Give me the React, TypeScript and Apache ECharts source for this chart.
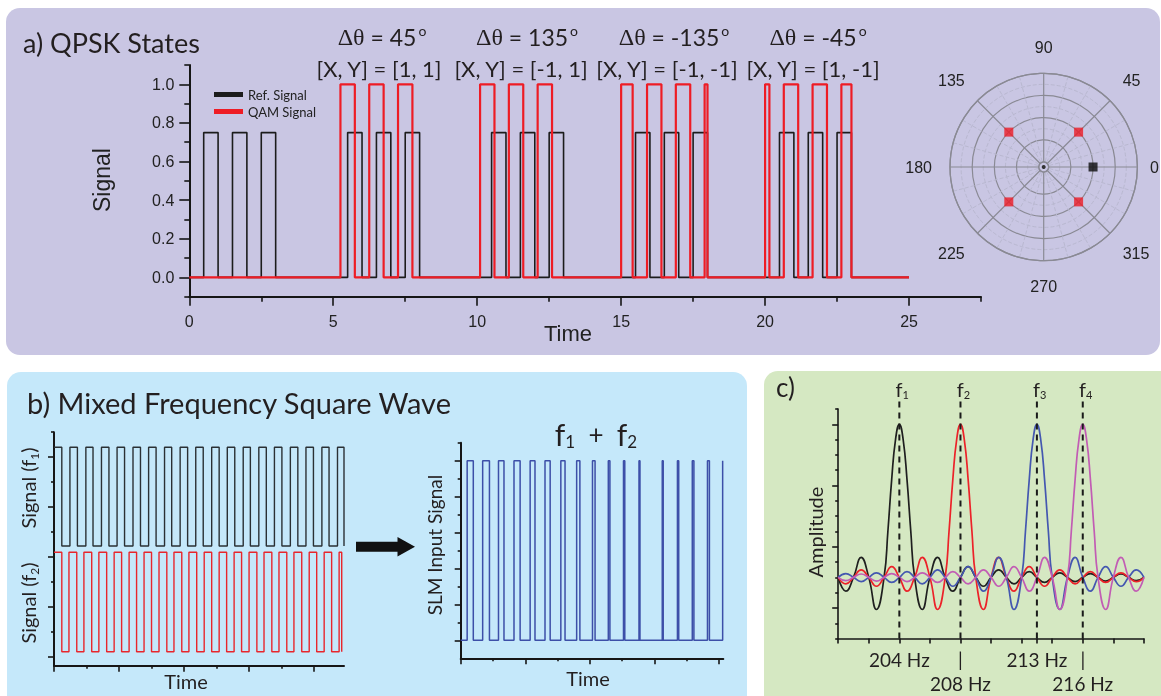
import React, { useEffect, useRef } from 'react';
import * as echarts from 'echarts';

// ---------------- Panel a: QPSK states ----------------
const qpskEnd = 25;
const refLevel = 0.75;
const qamLevel = 1.0;
const refPulses = [
  [0.5, 1], [1.5, 2], [2.5, 3],
  [5.5, 6], [6.5, 7], [7.5, 8],
  [10.5, 11], [11.5, 12], [12.5, 13],
  [15.5, 16], [16.5, 17], [17.5, 18],
  [20.5, 21], [21.5, 22], [22.5, 23],
];
const qamPulses = [
  [5.25, 5.75], [6.25, 6.75], [7.25, 7.75],
  [10.1, 10.6], [11.1, 11.6], [12.1, 12.6],
  [15.0, 15.4], [15.9, 16.4], [16.9, 17.4], [17.9, 18.0],
  [20.0, 20.15], [20.65, 21.15], [21.65, 22.15], [22.65, 23.0],
];
const aXMajor = [0, 5, 10, 15, 20, 25];
const aXMinor = [2.5, 7.5, 12.5, 17.5, 22.5, 27.5];
const aYMajor = [0, 0.2, 0.4, 0.6, 0.8, 1.0];
const aYMinor = [-0.1, 0.1, 0.3, 0.5, 0.7, 0.9, 1.1];
const deltaTheta = ['45', '135', '-135', '-45'];
const xyLabels = ['[X, Y] = [1, 1]', '[X, Y] = [-1, 1]', '[X, Y] = [-1, -1]', '[X, Y] = [1, -1]'];
const constellation = [[2, 45], [2, 135], [2, 225], [2, 315]];
const refPoint = [[2, 0]];

// ---------------- Panel b: mixed frequency square wave ----------------
const f1High = 8.4;
const f1Low = 4.45;
const f2High = 4.2;
const f2Low = 0.22;
const f1End = 8.92;
const f2End = 8.85;
const f1Dips = [
  [0.24, 0.49], [0.72, 0.98], [1.2, 1.46], [1.69, 1.94], [2.17, 2.43], [2.66, 2.91],
  [3.14, 3.4], [3.62, 3.88], [4.11, 4.36], [4.59, 4.85], [5.08, 5.33], [5.56, 5.82],
  [6.04, 6.3], [6.53, 6.78], [7.01, 7.27], [7.5, 7.75], [7.98, 8.24], [8.46, 8.72],
];
const f2Dips = [
  [0.24, 0.46], [0.7, 0.92], [1.16, 1.38], [1.62, 1.85], [2.08, 2.31], [2.54, 2.77],
  [3.0, 3.23], [3.47, 3.69], [3.93, 4.15], [4.39, 4.62], [4.85, 5.08], [5.31, 5.54],
  [5.77, 6.0], [6.24, 6.46], [6.7, 6.92], [7.16, 7.38], [7.62, 7.85], [8.08, 8.31], [8.54, 8.77],
];
const slmEnd = 8.13;
const slmPulses = [
  [0.2, 0.39], [0.68, 0.89], [1.17, 1.34], [1.65, 1.84], [2.15, 2.3], [2.61, 2.77],
  [3.1, 3.23], [3.59, 3.69], [4.08, 4.16], [4.57, 4.62], [5.04, 5.08], [5.52, 5.55],
  [6.24, 6.27], [6.71, 6.75], [7.17, 7.22], [7.64, 7.7], [8.11, 8.13],
];
const blXLong = [0, 2, 4, 6, 8];
const blXShort = [1, 3, 5, 7];
const blYLong = [0, 2, 4, 6, 8];
const blYShort = [1, 3, 5, 7, 9];
const brXLong = [0, 2, 4, 6, 8];
const brXShort = [1, 3, 5, 7];
const brYLong = [0, 0.2, 0.4, 0.6, 0.8, 1.0];
const brYShort = [0.1, 0.3, 0.5, 0.7, 0.9, 1.1];

// ---------------- Panel c: spectra ----------------
const cFreqs = [200, 200.5, 201, 201.5, 202, 202.5, 203, 203.5, 204, 204.5, 205, 205.5, 206, 206.5, 207, 207.5,
  208, 208.5, 209, 209.5, 210, 210.5, 211, 211.5, 212, 212.5, 213, 213.5, 214, 214.5, 215, 215.5, 216, 216.5,
  217, 217.5, 218, 218.5, 219, 219.5, 220];
const ampF1 = [0, -0.09, 0, 0.13, 0, -0.21, 0, 0.64, 1, 0.64, 0, -0.21, 0, 0.13, 0, -0.09, 0, 0.07, 0, -0.058, 0,
  0.049, 0, -0.042, 0, 0.037, 0, -0.033, 0, 0.03, 0, -0.028, 0, 0.025, 0, -0.024, 0, 0.022, 0, -0.021, 0];
const ampF2 = [0, -0.042, 0, 0.049, 0, -0.058, 0, 0.07, 0, -0.09, 0, 0.13, 0, -0.21, 0, 0.64, 1, 0.64, 0, -0.21, 0,
  0.13, 0, -0.09, 0, 0.07, 0, -0.058, 0, 0.049, 0, -0.042, 0, 0.037, 0, -0.033, 0, 0.03, 0, -0.028, 0];
const ampF3 = [0, 0.025, 0, -0.028, 0, 0.03, 0, -0.033, 0, 0.037, 0, -0.042, 0, 0.049, 0, -0.058, 0, 0.07, 0, -0.09, 0,
  0.13, 0, -0.21, 0, 0.64, 1, 0.64, 0, -0.21, 0, 0.13, 0, -0.09, 0, 0.07, 0, -0.058, 0, 0.049, 0];
const ampF4 = [0, -0.021, 0, 0.022, 0, -0.024, 0, 0.025, 0, -0.028, 0, 0.03, 0, -0.033, 0, 0.037, 0, -0.042, 0, 0.049, 0,
  -0.058, 0, 0.07, 0, -0.09, 0, 0.13, 0, -0.21, 0, 0.64, 1, 0.64, 0, -0.21, 0, 0.13, 0, -0.09, 0];
const peakF1 = [[203.25, 0.3], [203.75, 0.9], [204.25, 0.9], [204.75, 0.3]];
const peakF2 = [[207.25, 0.3], [207.75, 0.9], [208.25, 0.9], [208.75, 0.3]];
const peakF3 = [[212.25, 0.3], [212.75, 0.9], [213.25, 0.9], [213.75, 0.3]];
const peakF4 = [[215.25, 0.3], [215.75, 0.9], [216.25, 0.9], [216.75, 0.3]];
const markFreqs = [204, 208, 213, 216];
const markNames = ['1', '2', '3', '4'];
const cXTicks = [200, 202, 204, 206, 208, 210, 212, 213, 214, 216, 218, 220];
const cXLabelsUpper = [204, 213];
const cXLabelsLower = [208, 216];
const cYLong = [-0.2, 0.2, 0.6, 1.0];
const cYShort = [-0.4, -0.3, -0.1, 0, 0.1, 0.3, 0.4, 0.5, 0.7, 0.8, 0.9, 1.1];

// ---------------- helpers ----------------
function pulseTrace(pulses: number[][], base: number, level: number, tEnd: number) {
  const pts: number[][] = [[0, base]];
  for (const [s, e] of pulses) {
    pts.push([s, base], [s, level]);
    if (e >= tEnd) {
      pts.push([tEnd, level]);
      return pts;
    }
    pts.push([e, level], [e, base]);
  }
  pts.push([tEnd, base]);
  return pts;
}

function spectrum(amps: number[], peak: number[][]) {
  const pts = cFreqs.map((f, i) => [f, amps[i]]).concat(peak);
  pts.sort((a, b) => a[0] - b[0]);
  return pts;
}

const TXT = '#231f20';
const AX = '#161616';

function valAxis(grid: number, pos: string, min: number, max: number, ticks: number[], len: number, showLine: boolean, extra: any = {}) {
  return {
    type: 'value',
    gridIndex: grid,
    position: pos,
    min,
    max,
    axisLine: { show: showLine, onZero: false, lineStyle: { color: AX, width: 2 } },
    axisTick: { show: ticks.length > 0, customValues: ticks, length: len, lineStyle: { color: AX, width: 1.6 } },
    axisLabel: { show: false },
    splitLine: { show: false },
    ...extra,
  };
}

export default function App() {
  const ref = useRef<HTMLDivElement>(null);

  useEffect(() => {
    if (!ref.current) return;
    const chart = echarts.init(ref.current, null, { renderer: 'svg' });

    const tickFont = { fontFamily: 'Liberation Sans', fontSize: 16, color: '#222' };
    const cLabel = {
      show: true, showMinLabel: true, showMaxLabel: true, margin: 9,
      fontFamily: 'Lato', fontSize: 19, color: TXT, lineHeight: 24,
    };

    const xAxis: any[] = [
      valAxis(0, 'bottom', 0, 27.5, aXMajor, 9, true, {
        axisLabel: { show: true, customValues: aXMajor, margin: 17, showMinLabel: true, showMaxLabel: true, ...tickFont },
      }),
      valAxis(0, 'bottom', 0, 27.5, aXMinor, 5, false),
      valAxis(1, 'bottom', 0, f1End, blXLong, 6, true),
      valAxis(1, 'bottom', 0, f1End, blXShort, 3, false),
      valAxis(2, 'bottom', 0, slmEnd, brXLong, 6, true),
      valAxis(2, 'bottom', 0, slmEnd, brXShort, 3, false),
      valAxis(3, 'bottom', 200, 220, cXTicks, 5, true, {
        axisLine: { show: true, onZero: false, lineStyle: { color: AX, width: 1.6 } },
        axisLabel: { ...cLabel, customValues: cXLabelsUpper, formatter: (v: number) => v + ' Hz' },
      }),
      valAxis(3, 'bottom', 200, 220, [], 5, false, {
        axisLabel: { ...cLabel, customValues: cXLabelsLower, formatter: (v: number) => '|\n' + v + ' Hz' },
      }),
    ];

    const yAxis: any[] = [
      valAxis(0, 'left', -0.1, 1.1, aYMajor, 10, true, {
        axisLabel: { show: true, customValues: aYMajor, margin: 15, showMinLabel: true, showMaxLabel: true, formatter: (v: number) => v.toFixed(1), ...tickFont },
      }),
      valAxis(0, 'left', -0.1, 1.1, aYMinor, 5, false),
      valAxis(1, 'left', -0.34, 9, blYLong, 6, true),
      valAxis(1, 'left', -0.34, 9, blYShort, 3, false),
      valAxis(2, 'left', -0.1, 1.1, brYLong, 6, true),
      valAxis(2, 'left', -0.1, 1.1, brYShort, 3, false),
      valAxis(3, 'left', -0.4, 1.1, cYLong, 6, true, {
        axisLine: { show: true, onZero: false, lineStyle: { color: AX, width: 1.6 } },
      }),
      valAxis(3, 'left', -0.4, 1.1, cYShort, 3, false),
    ];

    const lineBase = { type: 'line', symbol: 'none', showSymbol: false, silent: true };

    const series: any[] = [
      { ...lineBase, name: 'Ref. Signal', xAxisIndex: 0, yAxisIndex: 0,
        data: pulseTrace(refPulses, 0, refLevel, qpskEnd),
        lineStyle: { color: '#1c1c1c', width: 1.6 }, itemStyle: { color: '#1c1c1c' } },
      { ...lineBase, name: 'QAM Signal', xAxisIndex: 0, yAxisIndex: 0,
        data: pulseTrace(qamPulses, 0, qamLevel, qpskEnd),
        lineStyle: { color: '#ee1c25', width: 2.2 }, itemStyle: { color: '#ee1c25' } },
      { type: 'scatter', coordinateSystem: 'polar', polarIndex: 0, data: constellation,
        symbol: 'rect', symbolSize: 9, itemStyle: { color: '#ee1c25' }, silent: true },
      { type: 'scatter', coordinateSystem: 'polar', polarIndex: 0, data: refPoint,
        symbol: 'rect', symbolSize: 9, itemStyle: { color: '#0d0d0d' }, silent: true },
      { ...lineBase, xAxisIndex: 2, yAxisIndex: 2,
        data: pulseTrace(f1Dips, f1High, f1Low, f1End).concat([[f1End, f1Low]]),
        lineStyle: { color: '#2a3034', width: 1.4 } },
      { ...lineBase, xAxisIndex: 2, yAxisIndex: 2,
        data: pulseTrace(f2Dips, f2High, f2Low, f2End).concat([[f2End, f2Low]]),
        lineStyle: { color: '#e8262c', width: 1.4 } },
      { ...lineBase, xAxisIndex: 4, yAxisIndex: 4,
        data: pulseTrace(slmPulses, 0, 1, slmEnd),
        lineStyle: { color: '#3d4fa8', width: 1.5 } },
      { ...lineBase, xAxisIndex: 6, yAxisIndex: 6, smooth: 0.5, data: spectrum(ampF1, peakF1),
        lineStyle: { color: '#1f1f1f', width: 1.7 } },
      { ...lineBase, xAxisIndex: 6, yAxisIndex: 6, smooth: 0.5, data: spectrum(ampF2, peakF2),
        lineStyle: { color: '#ec2229', width: 1.7 } },
      { ...lineBase, xAxisIndex: 6, yAxisIndex: 6, smooth: 0.5, data: spectrum(ampF3, peakF3),
        lineStyle: { color: '#4457b0', width: 1.7 } },
      { ...lineBase, xAxisIndex: 6, yAxisIndex: 6, smooth: 0.5, data: spectrum(ampF4, peakF4),
        lineStyle: { color: '#c25cb4', width: 1.7 } },
      ...markFreqs.map((f) => ({
        ...lineBase, xAxisIndex: 6, yAxisIndex: 6, clip: false, z: 5,
        data: [[f, -0.4], [f, 1.17]],
        lineStyle: { color: '#1a1a1a', width: 2, type: [6, 5] },
      })),
    ];

    const rot = Math.PI / 2;
    const graphic: any[] = [
      { type: 'rect', z: -10, shape: { x: 6, y: 8, width: 1154, height: 347, r: 14 }, style: { fill: '#c9c6e3' } },
      { type: 'rect', z: -10, shape: { x: 7, y: 372, width: 740, height: 340, r: 14 }, style: { fill: '#c5e8fa' } },
      { type: 'rect', z: -10, shape: { x: 764, y: 371, width: 420, height: 340, r: 14 }, style: { fill: '#d5e8c2' } },

      { type: 'text', x: 23, y: 42, style: { text: 'a) QPSK States', fontFamily: 'Lato', fontSize: 27, fill: TXT, align: 'left', verticalAlign: 'middle' } },
      ...deltaTheta.map((d, i) => ({
        type: 'text', x: [382, 527, 674, 818][i], y: 37,
        style: {
          text: '{g|Δθ}{t| = ' + d + '}{o|o}',
          align: 'center', verticalAlign: 'middle', fill: TXT,
          rich: {
            g: { fontFamily: 'Liberation Serif', fontSize: 24, lineHeight: 28, fill: TXT },
            t: { fontFamily: 'Lato', fontSize: 23, lineHeight: 28, fill: TXT },
            o: { fontFamily: 'Lato', fontSize: 14, lineHeight: 14, verticalAlign: 'top', fill: TXT, padding: [0, 0, 0, 2] },
          },
        },
      })),
      ...xyLabels.map((s, i) => ({
        type: 'text', x: [379, 521, 667, 813][i], y: 68,
        style: { text: s, fontFamily: 'Lato', fontSize: 22, fill: TXT, align: 'center', verticalAlign: 'middle' },
      })),
      { type: 'text', x: 102, y: 180, rotation: rot, style: { text: 'Signal', fontFamily: 'Liberation Sans', fontSize: 23, fill: '#222', align: 'center', verticalAlign: 'middle' } },
      { type: 'text', x: 568, y: 333, style: { text: 'Time', fontFamily: 'Liberation Sans', fontSize: 22, fill: '#222', align: 'center', verticalAlign: 'middle' } },
      { type: 'circle', z: 10, shape: { cx: 1043.7, cy: 167, r: 2 }, style: { fill: '#333' } },
      { type: 'text', x: 1150, y: 167, style: { text: '0', fontFamily: 'Liberation Sans', fontSize: 16, fill: '#222', align: 'left', verticalAlign: 'middle' } },

      { type: 'text', x: 27, y: 402, style: { text: 'b) Mixed Frequency Square Wave', fontFamily: 'Lato', fontSize: 29, fill: TXT, align: 'left', verticalAlign: 'middle' } },
      { type: 'text', x: 596, y: 434,
        style: {
          text: '{f|f}{s|1}{p|  +  }{f|f}{s|2}', align: 'center', verticalAlign: 'middle', fill: TXT,
          rich: {
            f: { fontFamily: 'Lato', fontSize: 30, lineHeight: 32, fill: TXT },
            p: { fontFamily: 'Lato', fontSize: 26, lineHeight: 32, fill: TXT },
            s: { fontFamily: 'Lato', fontSize: 17, lineHeight: 17, verticalAlign: 'bottom', fill: TXT },
          },
        } },
      ...[488, 603].map((y, i) => ({
        type: 'text', x: 28, y, rotation: rot,
        style: {
          text: '{t|Signal (f}{s|' + (i + 1) + '}{t|)}', align: 'center', verticalAlign: 'middle', fill: TXT,
          rich: {
            t: { fontFamily: 'Lato', fontSize: 20, lineHeight: 24, fill: TXT },
            s: { fontFamily: 'Lato', fontSize: 12, lineHeight: 12, verticalAlign: 'bottom', fill: TXT },
          },
        },
      })),
      { type: 'polygon', shape: { points: [[356, 541.7], [397.5, 541.7], [397.5, 537], [415, 546.7], [397.5, 556.4], [397.5, 551.7], [356, 551.7]] }, style: { fill: '#111' } },
      { type: 'text', x: 434, y: 545, rotation: rot, style: { text: 'SLM Input Signal', fontFamily: 'Lato', fontSize: 19, fill: TXT, align: 'center', verticalAlign: 'middle' } },
      { type: 'text', x: 186, y: 681, style: { text: 'Time', fontFamily: 'Lato', fontSize: 20, fill: TXT, align: 'center', verticalAlign: 'middle' } },
      { type: 'text', x: 588, y: 678, style: { text: 'Time', fontFamily: 'Lato', fontSize: 20, fill: TXT, align: 'center', verticalAlign: 'middle' } },

      { type: 'text', x: 776, y: 387, style: { text: 'c)', fontFamily: 'Lato', fontSize: 26, fill: TXT, align: 'left', verticalAlign: 'middle' } },
      { type: 'text', x: 815, y: 532, rotation: rot, style: { text: 'Amplitude', fontFamily: 'Lato', fontSize: 20, fill: TXT, align: 'center', verticalAlign: 'middle' } },
      ...markNames.map((n, i) => ({
        type: 'text', x: [899.3, 960.4, 1036.8, 1082.6][i] + 3, y: 389,
        style: {
          text: '{f|f}{s|' + n + '}', align: 'center', verticalAlign: 'middle', fill: TXT,
          rich: {
            f: { fontFamily: 'Lato', fontSize: 20, lineHeight: 22, fill: TXT },
            s: { fontFamily: 'Lato', fontSize: 11, lineHeight: 11, verticalAlign: 'bottom', fill: TXT },
          },
        },
      })),
    ];

    chart.setOption({
      animation: false,
      grid: [
        { left: 189.3, top: 65, width: 791.7, height: 231.7 },
        { left: 54, top: 432.2, width: 290, height: 233.5 },
        { left: 460.7, top: 442.7, width: 262.6, height: 215.6 },
        { left: 838.2, top: 409, width: 305.7, height: 229.6 },
      ],
      xAxis,
      yAxis,
      polar: { center: [1043.7, 167], radius: [5, 93.7] },
      angleAxis: {
        type: 'value', min: 0, max: 360, interval: 45, startAngle: 0, clockwise: false,
        axisLine: { show: true, lineStyle: { color: '#8a8a94', width: 1.3 } },
        axisTick: { show: false },
        axisLabel: { show: true, margin: 18, ...tickFont, formatter: (v: number) => (v === 360 || v === 0 ? '' : String(v)) },
        splitLine: { show: true, lineStyle: { color: '#8a8a94', width: 1.2 } },
        minorTick: { show: false, splitNumber: 3 },
        minorSplitLine: { show: true, lineStyle: { color: '#b9b8d0', width: 1, type: 'dashed' } },
      },
      radiusAxis: {
        type: 'value', min: 0, max: 4, interval: 1,
        axisLine: { show: false }, axisTick: { show: false }, axisLabel: { show: false },
        splitLine: { show: true, lineStyle: { color: '#8a8a94', width: 1.2 } },
        minorTick: { show: false, splitNumber: 2 },
        minorSplitLine: { show: true, lineStyle: { color: '#b9b8d0', width: 1, type: 'dashed' } },
      },
      legend: {
        data: ['Ref. Signal', 'QAM Signal'], orient: 'vertical', left: 209, top: 83,
        itemWidth: 29, itemHeight: 5, itemGap: 4, icon: 'rect',
        textStyle: { fontFamily: 'Lato', fontSize: 13, color: '#222' },
      },
      graphic,
      series,
    });

    return () => chart.dispose();
  }, []);

  return <div ref={ref} style={{ position: 'fixed', left: 0, top: 0, width: 1161, height: 696 }} />;
}
